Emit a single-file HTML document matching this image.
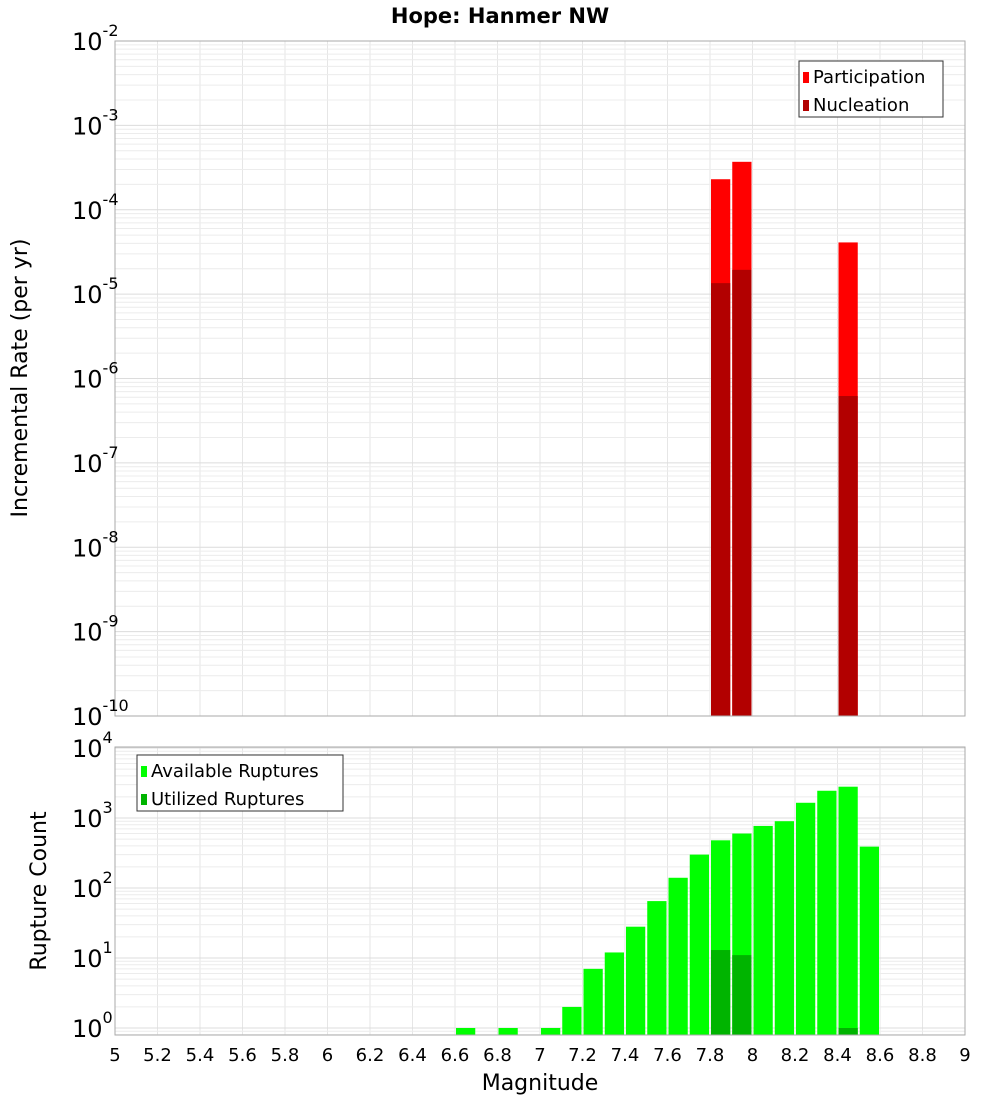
<!DOCTYPE html>
<html><head><meta charset="utf-8"><style>
body{margin:0;background:#fff;font-family:"Liberation Sans","DejaVu Sans",sans-serif}
svg text{font-family:"DejaVu Sans","Liberation Sans",sans-serif}
</style></head><body>
<svg id="c" width="1000" height="1100" xmlns="http://www.w3.org/2000/svg">
<text x="500" y="23" text-anchor="middle" font-size="21" font-weight="bold">Hope: Hanmer NW</text>
<text transform="translate(27,378) rotate(-90)" text-anchor="middle" font-size="22">Incremental Rate (per yr)</text>
<text transform="translate(46,891) rotate(-90)" text-anchor="middle" font-size="22">Rupture Count</text>
<text x="540" y="1090" text-anchor="middle" font-size="22">Magnitude</text>
</svg>
<script>
const partMags=[7.85,7.95,8.45];
const partVals=[2.3e-4,3.7e-4,4.1e-5];
const nuclMags=[7.85,7.95,8.45];
const nuclVals=[1.35e-5,1.94e-5,6.2e-7];
const availMags=[6.65,6.85,7.05,7.15,7.25,7.35,7.45,7.55,7.65,7.75,7.85,7.95,8.05,8.15,8.25,8.35,8.45,8.55];
const availVals=[1,1,1,2,7,12,28,65,140,300,480,600,770,900,1650,2450,2800,390];
const usedMags=[7.85,7.95,8.45];
const usedVals=[13,11,1];
const xTicks=[5,5.2,5.4,5.6,5.8,6,6.2,6.4,6.6,6.8,7,7.2,7.4,7.6,7.8,8,8.2,8.4,8.6,8.8,9];
const topExps=[-10,-9,-8,-7,-6,-5,-4,-3,-2];
const botExps=[0,1,2,3,4];

const NS="http://www.w3.org/2000/svg";
const svg=document.getElementById('c');
function el(t,a,p){const e=document.createElementNS(NS,t);for(const k in a)e.setAttribute(k,a[k]);(p||svg).appendChild(e);return e;}
const X0=115,X1=965;
const xs=m=>X0+(m-5)/4*(X1-X0);
const yTop=v=>41+(-2-Math.log10(v))*84.375;
const yBot=v=>1028-70*Math.log10(v);
const BW=(xs(5.1)-xs(5))-2;

function panel(top,bot,ys,exps,name){
  const g=el('g',{});
  
  
  xTicks.forEach(t=>el('line',{x1:xs(t),x2:xs(t),y1:top,y2:bot,stroke:'#e6e6e6'},g));
  for(let e=exps[0]-1;e<=exps[exps.length-1];e++)for(let k=1;k<10;k++){
    const y=ys(k*Math.pow(10,e));if(y<top||y>bot)continue;
    el('line',{x1:X0,x2:X1,y1:y,y2:y,stroke:k==1?'#dcdcdc':'#ececec'},g);
  }
}
panel(41,716,yTop,topExps,'top');
panel(747,1035,yBot,botExps,'bottom');

function bars(mags,vals,ys,base,color,name){
  mags.forEach((m,i)=>{
    const y=ys(vals[i]);
    const r=el('rect',{x:xs(m)-BW/2,y:y,width:BW,height:base-y,fill:color});
    
    
  });
}
bars(partMags,partVals,yTop,716,'#ff0000','participation');
bars(nuclMags,nuclVals,yTop,716,'#b20000','nucleation');
bars(availMags,availVals,yBot,1035,'#00ff00','available');
bars(usedMags,usedVals,yBot,1035,'#00b400','utilized');

el('rect',{x:X0,y:41,width:X1-X0,height:675,fill:'none',stroke:'#aaa'});
el('rect',{x:X0,y:747,width:X1-X0,height:288,fill:'none',stroke:'#aaa'});

topExps.forEach(e=>{
  const t=el('text',{x:72,y:yTop(Math.pow(10,e))+9,'font-size':24});
  
  
  t.textContent='10';
  const s=el('tspan',{dy:-14,'font-size':16});s.textContent=String(e);t.appendChild(s);
});
botExps.forEach(e=>{
  const t=el('text',{x:72,y:yBot(Math.pow(10,e))+9,'font-size':24});
  
  
  t.textContent='10';
  const s=el('tspan',{dy:-14,'font-size':16});s.textContent=String(e);t.appendChild(s);
});
xTicks.forEach(v=>{
  const t=el('text',{x:xs(v),y:1061,'text-anchor':'middle','font-size':18});
  
  
  t.textContent=String(v);
});

function legend(x,y,w,items,name){
  const g=el('g',{});
  
  
  el('rect',{x:x,y:y,width:w,height:56,fill:'#fff',stroke:'#333'},g);
  items.forEach((it,i)=>{
    el('rect',{x:x+4,y:y+11+i*28,width:6,height:11,fill:it[1]},g);
    const t=el('text',{x:x+14,y:y+22+i*28,'font-size':18},g);t.textContent=it[0];
  });
}
legend(799,61,144,[['Participation','#ff0000'],['Nucleation','#b20000']],'top-legend');
legend(137,755,206,[['Available Ruptures','#00ff00'],['Utilized Ruptures','#00b400']],'bottom-legend');
</script>
</body></html>
